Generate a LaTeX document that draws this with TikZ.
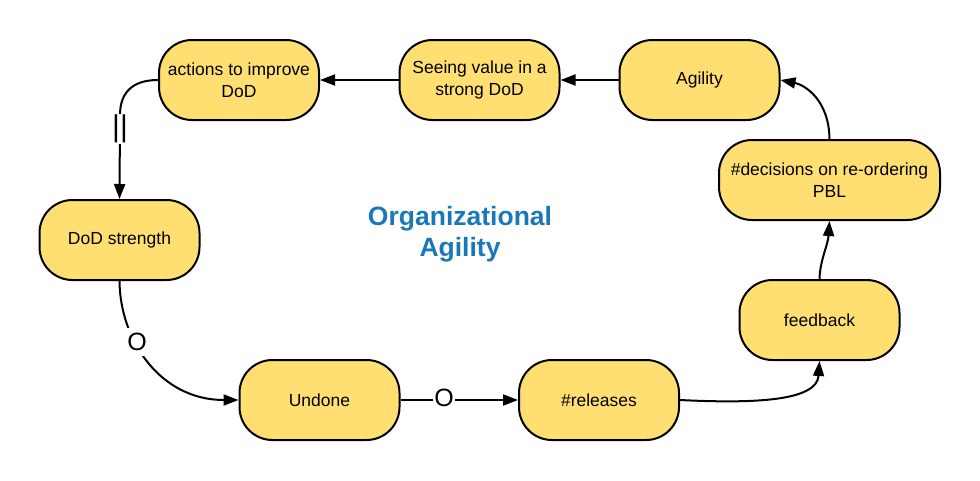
\documentclass[tikz,border=0pt]{standalone}
\usepackage{fontspec}
\setmainfont{Liberation Sans}
\usetikzlibrary{arrows.meta}
\definecolor{nodefill}{HTML}{FFDF71}
\definecolor{titleblue}{HTML}{1A78BA}
\begin{document}
\begin{tikzpicture}[x=1pt,y=-1pt,
  box/.style={draw=black, line width=2pt, fill=nodefill, rounded corners=33pt,
    minimum width=160pt, minimum height=80pt, inner sep=0pt, align=center,
    font=\fontsize{17.5}{22}\selectfont},
  conn/.style={line width=2pt, -{Triangle[length=15pt,width=11pt]}},
  lbl/.style={fill=white, inner sep=1.5pt, font=\fontsize{25}{25}\selectfont}]
\useasboundingbox (0,0) rectangle (980,480);
% nodes
\node[box] (actions) at (239,80) {actions to improve\\DoD};
\node[box] (seeing) at (479.5,80) {Seeing value in a\\strong DoD};
\node[box] (agility) at (699.5,80) {Agility};
\node[box] (dod) at (119.5,240) {DoD strength};
\node[box] (undone) at (319.5,400) {Undone};
\node[box] (rel) at (599,400) {\#releases};
\node[box] (fb) at (819.5,320) {feedback};
\node[box, minimum width=221pt] (dec) at (829.5,180) {\#decisions on re-ordering\\PBL};
\node[font=\bfseries\fontsize{26.5}{31}\selectfont, text=titleblue, align=center] (title) at (460,234) {Organizational\\Agility};
% connectors
\draw[conn] (agility.west) -- (seeing.east);
\draw[conn] (seeing.west) -- (actions.east);
\coordinate (c1) at (120,115);
\draw[conn] (actions.west) .. controls (130,80) and (120,95) .. (c1) -- (dod.north);
\node[lbl, inner sep=1pt, font=\fontsize{30}{30}\selectfont] (delay) at (120,129) {||};
\draw[conn] (dod.south) .. controls (120,340) and (160,400) .. (undone.west);
\node[lbl, inner sep=5pt] (o1) at (137,342) {O};
\draw[conn] (undone.east) -- (rel.west);
\node[lbl] (o2) at (444,398) {O};
\draw[conn] (rel.east) .. controls (760,404) and (817,400) .. (fb.south);
\draw[conn] (fb.north) .. controls (820,260) and (828,245) .. (dec.south);
\draw[conn] (dec.north) .. controls (829,100) and (805,85) .. (agility.east);
\end{tikzpicture}
\end{document}
